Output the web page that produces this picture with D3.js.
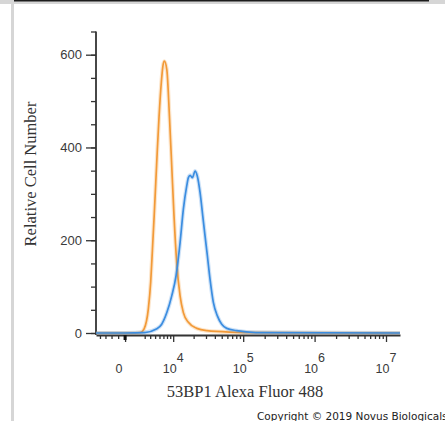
<!DOCTYPE html>
<html>
<head>
<meta charset="utf-8">
<script src="https://cdn.jsdelivr.net/npm/d3@7/dist/d3.min.js"></script>
<style>
    body { margin: 0; background: #fff; }
    svg { display: block; }
</style>
</head>
<body>
<div id="chart"></div>
<script>
// histogram: intensity (53BP1 Alexa Fluor 488) vs relative cell number
var controlIntensity = [-4800, 0, 1500, 2300, 2900, 3650, 4100, 4450, 4800, 5150, 5500, 5900, 6450, 6850,
    7250, 7950, 8750, 9500, 10300, 11300, 12700, 14200, 16800, 22200, 30800, 65000, 170000, 1.57e7];
var controlCount = [0, 0, 0, 1, 9, 52, 110, 181, 252, 325, 396, 467, 540, 575,
    586, 568, 467, 360, 252, 152, 80, 44, 23, 10, 5, 2, 1, 0];

var stainedIntensity = [-4800, 0, 3000, 5400, 6550, 7950, 9500, 11050, 12700, 14200, 15900, 16800, 17800, 19200,
    21000, 22600, 24700, 27000, 29100, 31400, 34200, 38100, 43400, 50000, 58800, 81000, 150000, 1.57e7];
var stainedCount = [0, 0, 1, 9, 19, 44, 80, 123, 195, 267, 317, 335, 340, 335,
    349, 338, 303, 252, 209, 166, 116, 66, 37, 19, 10, 5, 1, 0];

var yTicks = [0, 200, 400, 600];
var xMajorTicks = [0, 1e4, 1e5, 1e6, 1e7];
var xMajorLabels = ["0", "4", "5", "6", "7"];

var width = 445,
    height = 421;

var svg = d3
    .select("#chart")
    .append("svg")
    .attr("width", width)
    .attr("height", height);

// screenshot frame bits
svg.append("rect").attr("x", 0).attr("y", 0).attr("width", width).attr("height", 4).attr("fill", "#d6d6d6");
svg.append("rect").attr("x", 14).attr("y", 0).attr("width", 415).attr("height", 1.5).attr("fill", "#1c1c1c");
svg.append("rect").attr("x", 11).attr("y", 0).attr("width", 3).attr("height", height).attr("fill", "#d6d6d6");

// biexponential-like x scale (asinh transform on a linear scale)
var W = 4440;
var tr = function(v) {
    return Math.asinh(v / W);
};
var xLin = d3.scaleLinear().domain([tr(-4800), tr(1.57e7)]).range([96, 400]);
var x = function(v) {
    return xLin(tr(v));
};

var y = d3.scaleLinear().domain([0, 650]).range([333, 31.5]);

var axisY = 335;

// minor ticks on the x axis
var xMinor = [-1000, -2000, -3000, -4000];
[1e3, 1e4, 1e5, 1e6].forEach(function(dec) {
    for (var m = 2; m <= 9; m++) {
        if (dec === 1e3 && m < 3) continue;
        xMinor.push(m * dec);
    }
});

var gx = svg.append("g").attr("transform", "translate(0," + axisY + ")");

gx.append("g")
    .attr("class", "x-minor")
    .call(d3.axisBottom(xLin).tickValues(xMinor.map(tr)).tickFormat("").tickSize(4).tickSizeOuter(0));

gx.append("g")
    .attr("class", "x-major")
    .call(d3.axisBottom(xLin).tickValues(xMajorTicks.map(tr)).tickFormat("").tickSize(7).tickSizeOuter(0));

gx.selectAll("path, line").attr("stroke", "#333").attr("stroke-width", 1.3);
gx.select(".x-minor .domain").attr("stroke-width", 1.8);
gx.select(".x-major .domain").remove();

// bold zero marker
svg.append("line")
    .attr("x1", x(0)).attr("x2", x(0))
    .attr("y1", axisY).attr("y2", axisY + 5)
    .attr("stroke", "#111").attr("stroke-width", 3);

// x tick labels: 0 and powers of ten
var xl = svg.append("g")
    .attr("font-family", "'Liberation Sans', Arial, sans-serif")
    .attr("font-size", 12.5)
    .attr("fill", "#3a3a3a");

xMajorTicks.forEach(function(t, i) {
    var txt = xl.append("text")
        .attr("y", 373)
        .attr("text-anchor", "middle");
    if (t === 0) {
        txt.attr("x", x(t) - 6).text(xMajorLabels[i]);
    } else {
        txt.attr("x", x(t));
        txt.append("tspan").text("10");
        txt.append("tspan").attr("dy", -11).text(xMajorLabels[i]);
    }
});

// y axis
var gy = svg.append("g").attr("transform", "translate(96,0)");

gy.append("g")
    .attr("class", "y-minor")
    .call(d3.axisLeft(y).tickValues(d3.range(0, 651, 50)).tickFormat("").tickSize(5).tickSizeOuter(0));

gy.append("g")
    .attr("class", "y-major")
    .call(d3.axisLeft(y).tickValues(yTicks).tickSize(10).tickPadding(4).tickSizeOuter(0));

gy.selectAll("path, line").attr("stroke", "#333").attr("stroke-width", 1.3);
gy.select(".y-minor .domain").attr("d", "M0," + y(650) + "V" + axisY).attr("stroke-width", 1.8);
gy.select(".y-major .domain").remove();
gy.selectAll("text")
    .attr("font-family", "'Liberation Sans', Arial, sans-serif")
    .attr("font-size", 13)
    .attr("fill", "#3a3a3a");

// histogram lines
var valueline = d3
    .line()
    .x(function(d) {
        return x(d[0]);
    })
    .y(function(d) {
        return y(d[1]);
    })
    .curve(d3.curveMonotoneX);

var series = [
    { xs: controlIntensity, ys: controlCount, color: "#f29a38" },
    { xs: stainedIntensity, ys: stainedCount, color: "#3b8de0" }
];

series.forEach(function(s) {
    var pts = d3.zip(s.xs, s.ys);
    svg.append("path")
        .datum(pts)
        .attr("fill", "none")
        .attr("stroke", s.color)
        .attr("stroke-opacity", 0.25)
        .attr("stroke-width", 4)
        .attr("d", valueline);
    svg.append("path")
        .datum(pts)
        .attr("fill", "none")
        .attr("stroke", s.color)
        .attr("stroke-width", 1.7)
        .attr("stroke-linejoin", "round")
        .attr("d", valueline);
});

// axis titles
svg.append("text")
    .attr("x", 245)
    .attr("y", 396.5)
    .attr("text-anchor", "middle")
    .attr("font-family", "'Liberation Serif', 'Times New Roman', serif")
    .attr("font-size", 16.5)
    .attr("fill", "#333")
    .text("53BP1 Alexa Fluor 488");

svg.append("text")
    .attr("transform", "translate(36,174) rotate(-90)")
    .attr("text-anchor", "middle")
    .attr("font-family", "'Liberation Serif', 'Times New Roman', serif")
    .attr("font-size", 16.5)
    .attr("fill", "#333")
    .text("Relative Cell Number");

svg.append("text")
    .attr("x", 257)
    .attr("y", 420)
    .attr("font-family", "'DejaVu Sans', Verdana, sans-serif")
    .attr("font-size", 10.5)
    .attr("fill", "#222")
    .text("Copyright \u00a9 2019 Novus Biologicals");
</script>
</body>
</html>
